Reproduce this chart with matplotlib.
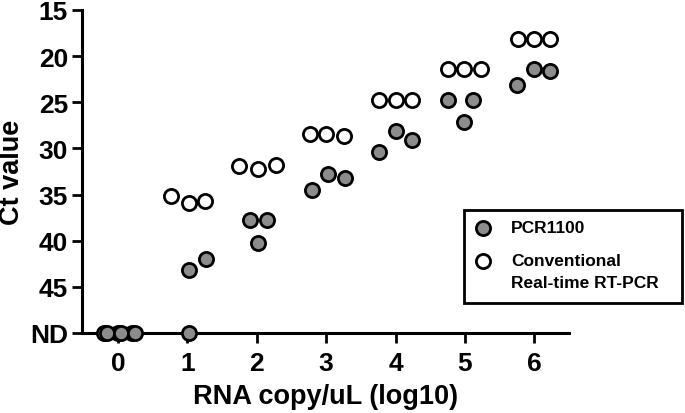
import matplotlib
matplotlib.use('Agg')
import matplotlib.pyplot as plt
from matplotlib.patches import Rectangle
from matplotlib.lines import Line2D

plt.rcParams['font.family'] = ['Liberation Sans', 'DejaVu Sans']
plt.rcParams['font.weight'] = 'bold'

ND = 50  # not detected, drawn on the x axis

# conventional real-time RT-PCR (white)
conv_x = [-0.20, 0.00, 0.20, 0.77, 1.02, 1.26, 1.75, 2.01, 2.27, 2.76, 3.00, 3.25,
          3.76, 4.01, 4.24, 4.75, 4.99, 5.23, 5.76, 5.99, 6.23]
conv_ct = [ND, ND, ND, 35.2, 35.9, 35.7, 31.9, 32.2, 31.8, 28.4, 28.4, 28.6,
           24.8, 24.8, 24.8, 21.4, 21.4, 21.4, 18.1, 18.1, 18.1]

# PCR1100 (grey)
pcr_x = [-0.16, 0.04, 0.24, 1.02, 1.02, 1.27, 1.90, 2.15, 2.01, 2.79, 3.02, 3.27,
         3.76, 4.01, 4.24, 4.75, 5.11, 4.99, 5.75, 6.00, 6.23]
pcr_ct = [ND, ND, ND, ND, 43.2, 42.0, 37.75, 37.75, 40.2, 34.5, 32.8, 33.2,
          30.4, 28.1, 29.05, 24.8, 24.8, 27.1, 23.1, 21.4, 21.6]

x_ticks = [0, 1, 2, 3, 4, 5, 6]
y_ticks = [15, 20, 25, 30, 35, 40, 45, ND]
y_labels = ['15', '20', '25', '30', '35', '40', '45', 'ND']

grey = '#8c8c8c'
ms = 10.2
mew = 2.0

fig = plt.figure(figsize=(6.85, 4.14), dpi=100)
ax = fig.add_axes([82 / 685, 1 - 334 / 414, 487 / 685, 323 / 414])

ax.plot(conv_x, conv_ct, 'o', color='white', mec='black', ms=ms, mew=mew,
        clip_on=False, zorder=3)
ax.plot(pcr_x, pcr_ct, 'o', color=grey, mec='black', ms=ms, mew=mew,
        clip_on=False, zorder=4)

ax.set_xlim(-0.52, 6.5)
ax.set_ylim(ND, 15)
ax.set_xticks(x_ticks)
ax.set_yticks(y_ticks)
ax.set_yticklabels(y_labels)

for s in ['top', 'right']:
    ax.spines[s].set_visible(False)
for s in ['left', 'bottom']:
    ax.spines[s].set_linewidth(2.2)
ax.tick_params(width=2.0, length=7, labelsize=19, pad=3)
ax.tick_params(axis='x', pad=6)

ax.set_xlabel('RNA copy/uL (log10)', fontsize=19.5, fontweight='bold', labelpad=6)
ax.set_ylabel('Ct value', fontsize=19.5, fontweight='bold', labelpad=4)

# legend box drawn by hand so the white marker sits on the first text line
W, H = 685, 414
fig.add_artist(Rectangle((464 / W, 1 - 304 / H), 218 / W, 93 / H, transform=fig.transFigure,
                         fill=False, edgecolor='black', linewidth=2.0))
fig.add_artist(Line2D([483 / W], [1 - 229 / H], marker='o', color=grey, mec='black',
                      ms=ms, mew=mew, transform=fig.transFigure))
fig.add_artist(Line2D([483 / W], [1 - 262 / H], marker='o', color='white', mec='black',
                      ms=ms, mew=mew, transform=fig.transFigure))
fig.text(511 / W, 1 - 229 / H, 'PCR1100', fontsize=12.5, fontweight='bold', va='center')
fig.text(511 / W, 1 - 262 / H, 'Conventional', fontsize=12.5, fontweight='bold', va='center')
fig.text(511 / W, 1 - 284 / H, 'Real-time RT-PCR', fontsize=12.5, fontweight='bold', va='center')

fig.savefig('out.png', dpi=100)
